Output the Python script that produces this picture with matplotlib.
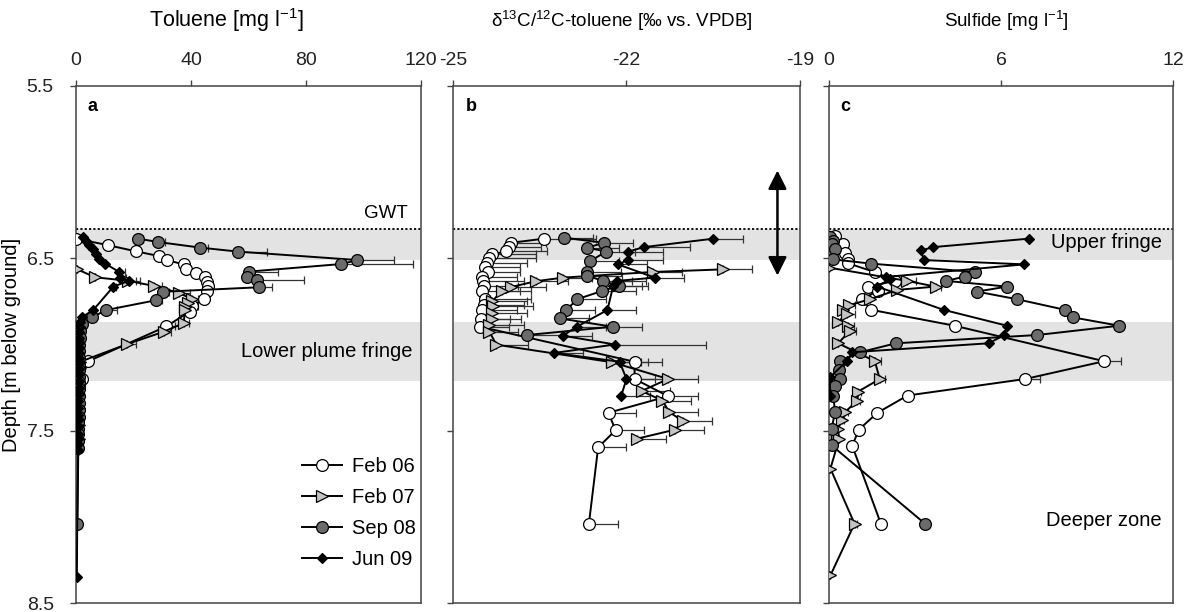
import numpy as np
import matplotlib.pyplot as plt

plt.rcParams['font.family'] = ['Liberation Sans', 'DejaVu Sans']
plt.rcParams['font.size'] = 14
plt.rcParams['mathtext.fontset'] = 'custom'
plt.rcParams['mathtext.rm'] = 'Liberation Sans'
plt.rcParams['mathtext.it'] = 'Liberation Sans'

# ---------------- panel a: toluene [mg/l] ----------------
tol_feb06_d = [6.386, 6.423, 6.46, 6.487, 6.51, 6.535, 6.56, 6.587, 6.61, 6.636, 6.66, 6.69,
               6.737, 6.775, 6.81, 6.895, 7.097, 7.20, 7.24]
tol_feb06_v = [0, 11, 21, 29, 31.6, 37.4, 38.3, 41.9, 44.8, 45.6, 45.9, 45.7,
               44.5, 40.3, 39.5, 31.4, 4.3, 2, 1]
tol_feb06_e = [0, 0, 0, 0, 0, 0, 0, 0, 0, 0, 0, 0, 0, 2, 2, 3, 0, 0, 0]

tol_feb07_d = [6.564, 6.61, 6.63, 6.66, 6.70, 6.737, 6.76, 6.78, 6.80, 6.876, 6.926, 6.997,
               7.10, 7.22, 7.30, 7.37, 7.47, 7.55]
tol_feb07_v = [0.5, 6.6, 18, 27, 35.7, 40.3, 39, 38, 38, 37.4, 30.5, 17.9,
               1.5, 1.2, 1.0, 1.2, 1.0, 1.0]
tol_feb07_e = [0, 0, 4.3, 3, 4, 2, 1.5, 3, 2.5, 2, 2.5, 3, 0, 0, 0, 0, 0, 0]

tol_sep08_d = [6.386, 6.405, 6.438, 6.461, 6.51, 6.533, 6.577, 6.608, 6.627, 6.668, 6.694,
               6.743, 6.80, 6.843, 6.88, 6.92, 6.96, 7.0, 7.04, 7.08, 7.12, 7.15, 7.19,
               7.22, 7.26, 7.30, 7.34, 7.38, 7.42, 7.45, 7.49, 7.52, 7.56, 7.60, 8.04]
tol_sep08_v = [21.7, 28.4, 43.3, 56.4, 97.9, 92.3, 60.1, 59.5, 62.8, 63.6, 30.2,
               27.9, 10.5, 5.5, 2.0, 1.5, 1.3, 1.2, 1.2, 1.1, 1.1, 1.0, 1.0,
               1.0, 1.0, 0.9, 0.9, 0.9, 0.9, 0.8, 0.8, 0.8, 0.8, 0.8, 0.5]
tol_sep08_e = [1.5, 2.5, 2.5, 10, 12.8, 25, 10, 2, 16.5, 4.4, 2,
               2, 3.8, 1] + [0] * 21

tol_jun09_d = [6.375, 6.40, 6.425, 6.448, 6.475, 6.506, 6.53, 6.579, 6.617, 6.631, 6.664,
               6.80, 6.84, 6.87, 6.90, 6.93, 6.96, 6.99, 7.02, 7.05, 7.08, 7.11, 7.14,
               7.17, 7.21, 7.25, 7.29, 7.33, 7.37, 7.41, 7.44, 7.48, 7.52, 7.55, 7.58,
               7.61, 8.35]
tol_jun09_v = [2.3, 3.5, 4.6, 6, 7, 8.1, 10.1, 15, 15.3, 18.3, 13,
               6, 2.2, 1.5, 1.3, 1.2, 1.2, 1.1, 1.1, 1.0, 1.0, 1.0, 1.0,
               0.9, 0.9, 0.9, 0.9, 0.8, 0.8, 0.8, 0.8, 0.7, 0.7, 0.7, 0.6,
               0.6, 0.3]
tol_jun09_e = [0, 0, 0, 0, 0, 0, 0, 2, 2, 2.5, 1] + [0] * 26

# ---------------- panel b: d13C toluene ----------------
iso_feb06_d = [6.386, 6.41, 6.432, 6.46, 6.477, 6.496, 6.525, 6.55, 6.579, 6.606, 6.631,
               6.66, 6.689, 6.737, 6.77, 6.80, 6.85, 6.897, 7.10, 7.20, 7.30, 7.396,
               7.498, 7.597, 8.04]
iso_feb06_v = [-23.43, -24.0, -24.03, -24.08, -24.32, -24.37, -24.42, -24.45, -24.39,
               -24.5, -24.48, -24.47, -24.49, -24.45, -24.47, -24.5, -24.52, -24.53,
               -21.86, -21.86, -21.28, -22.31, -22.19, -22.49, -22.65]
iso_feb06_e = [0.9, 0.6, 0.55, 0.7, 0.75, 0.8, 0.7, 0.6, 0.55, 0.6, 0.7,
               0.6, 0.65, 0.8, 0.7, 0.6, 0.5, 0.5, 0.48, 0.5, 0.51, 0.48, 0.49, 0.49, 0.5]

iso_feb07_d = [6.564, 6.579, 6.612, 6.633, 6.666, 6.689, 6.747, 6.779, 6.818, 6.85, 6.887,
               6.926, 7.001, 7.103, 7.2, 7.27, 7.325, 7.392, 7.446, 7.494, 7.546]
iso_feb07_v = [-20.33, -21.54, -23.1, -23.57, -23.99, -24.15, -24.32, -24.31, -24.32,
               -24.32, -24.37, -24.37, -24.25, -22.25, -21.28, -21.74, -21.38, -21.26,
               -21.02, -21.16, -21.81]
iso_feb07_e = [0.5, 0.5, 0.5, 0.55, 0.6, 0.5, 0.6, 0.7, 0.6, 0.5, 0.6,
               0.5, 0.55, 0.5, 0.51, 0.5, 0.5, 0.5, 0.5, 0.5, 0.5]

iso_sep08_d = [6.38, 6.41, 6.438, 6.461, 6.516, 6.578, 6.60, 6.632, 6.66, 6.69, 6.737,
               6.799, 6.849, 6.897, 6.945]
iso_sep08_v = [-23.08, -22.39, -22.68, -22.35, -22.63, -22.69, -22.68, -22.4, -22.13,
               -22.43, -22.85, -23.04, -23.15, -22.24, -23.72]
iso_sep08_e = [0.5, 0.5, 0.55, 0.5, 0.5, 0.6, 0.6, 0.5, 0.5, 0.6, 0.5, 0.5, 0.5, 0.5, 0.6]

iso_jun09_d = [6.386, 6.435, 6.461, 6.51, 6.535, 6.612, 6.631, 6.66, 6.80, 6.897, 6.949,
               7.0, 7.049, 7.10, 7.2, 7.296]
iso_jun09_v = [-20.5, -21.7, -21.97, -21.97, -22.15, -21.51, -22.17, -22.23, -22.33,
               -22.86, -23.1, -22.2, -23.25, -22.12, -22.0, -22.09]
iso_jun09_e = [0.51, 0.8, 0.6, 0.6, 0.5, 0.5, 0.5, 0.5, 0.5, 0.5, 0.5, 1.57, 0.5,
               0.5, 0.5, 0.5]

# ---------------- panel c: sulfide [mg/l] ----------------
sul_feb06_d = [6.371, 6.419, 6.467, 6.502, 6.529, 6.58, 6.631, 6.664, 6.689, 6.737, 6.799,
               6.891, 7.097, 7.2, 7.296, 7.396, 7.494, 7.588, 8.04]
sul_feb06_v = [0.21, 0.5, 0.56, 0.67, 0.67, 1.6, 2.3, 1.37, 1.71, 1.14, 1.48,
               4.38, 9.6, 6.85, 2.74, 1.69, 1.04, 0.81, 1.81]
sul_feb06_e = [0, 0, 0, 0, 0, 0, 0, 0, 0, 0, 0, 0.1, 0.6, 0.5, 0.1, 0, 0, 0, 0]

sul_feb07_d = [6.554, 6.631, 6.664, 6.683, 6.737, 6.772, 6.799, 6.824, 6.868, 6.895, 6.92,
               6.993, 7.097, 7.2, 7.273, 7.325, 7.392, 7.44, 7.49, 7.55, 7.72, 8.04, 8.34]
sul_feb07_v = [0, 2.72, 3.72, 2.38, 1.43, 0.71, 0.48, 0.62, 0.32, 0.67, 0.73,
               0.32, 1.6, 1.77, 1.02, 0.99, 0.56, 0.44, 0.32, 0.35, 0.05, 0.89, 0.05]
sul_feb07_e = [0, 0.3, 0.2, 0, 0, 0.2, 0.2, 0.3, 0, 0.2, 0.2,
               0, 0.2, 0.2, 0.1, 0.1, 0.1, 0.1, 0, 0, 0, 0.1, 0]

sul_sep08_d = [6.375, 6.40, 6.419, 6.448, 6.506, 6.531, 6.579, 6.606, 6.631, 6.664, 6.693,
               6.737, 6.799, 6.843, 6.891, 6.945, 6.993, 7.045, 7.097, 7.146, 7.2, 7.24,
               7.296, 7.392, 7.49, 7.585, 8.04]
sul_sep08_v = [0.03, 0.15, 0.09, 0.21, 0.15, 1.48, 5.08, 4.73, 4.09, 6.21, 5.16,
               6.55, 8.24, 8.52, 10.12, 7.26, 2.33, 1.08, 0.38, 0.36, 0.38, 0.21,
               0.15, 0.21, 0.09, 0.09, 3.35]

sul_jun09_d = [6.386, 6.435, 6.454, 6.51, 6.535, 6.608, 6.621, 6.664, 6.799, 6.891, 6.945,
               6.993, 7.045, 7.097, 7.19, 7.296]
sul_jun09_v = [6.96, 3.63, 3.22, 3.30, 6.81, 2.0, 2.12, 1.68, 4.0, 6.21, 6.12,
               5.57, 0.81, 0.62, 0.03, 0.03]

GWT = 6.33
UPPER_BAND = (6.33, 6.51)
LOWER_BAND = (6.87, 7.21)

STYLE = {
    "Feb 06": dict(marker="o", mfc="white", ms=8.5),
    "Feb 07": dict(marker=">", mfc="#c4c4c4", ms=9),
    "Sep 08": dict(marker="o", mfc="#6b6b6b", ms=8.5),
    "Jun 09": dict(marker="D", mfc="black", ms=5.5),
}


def series(ax, d, v, name, err=None, label=None):
    st = STYLE[name]
    if err is not None:
        err = np.array(err)
        ax.errorbar(v, d, xerr=[np.zeros_like(err), err], fmt="none", ecolor="#333333",
                    elinewidth=0.9, capsize=3, capthick=0.9, zorder=3)
    ax.plot(v, d, color="black", lw=1.4, marker=st["marker"], ms=st["ms"],
            mfc=st["mfc"], mec="black", mew=0.9, zorder=4, label=label)


def frame(ax, xlim, xticks, xlabel, label_size):
    ax.set_ylim(8.5, 5.5)
    ax.set_xlim(*xlim)
    ax.axhspan(*UPPER_BAND, color="#e3e3e3", lw=0, zorder=0)
    ax.axhspan(*LOWER_BAND, color="#e3e3e3", lw=0, zorder=0)
    ax.axhline(GWT, color="black", ls=(0, (1.2, 1.2)), lw=1.3, zorder=1)
    ax.xaxis.tick_top()
    ax.xaxis.set_label_position("top")
    ax.set_xticks(xticks)
    ax.set_xticklabels([str(t) for t in xticks])
    ax.set_xlabel(xlabel, fontsize=label_size)
    ax.set_yticks([5.5, 6.5, 7.5, 8.5])
    ax.tick_params(direction="out", length=4, width=1, color="#444444", labelsize=14)
    ax.tick_params(axis="x", pad=8)
    ax.tick_params(axis="y", pad=12)
    for s in ax.spines.values():
        s.set_color("#444444")
        s.set_linewidth(1.1)


fig = plt.figure(figsize=(11.89, 6.12), dpi=100)
bottom, height = 9 / 612, 517 / 612
ax_a = fig.add_axes([76 / 1189, bottom, 345 / 1189, height])
ax_b = fig.add_axes([453 / 1189, bottom, 347 / 1189, height])
ax_c = fig.add_axes([829 / 1189, bottom, 344 / 1189, height])

# panel a
frame(ax_a, (0, 120), [0, 40, 80, 120], r"Toluene [mg l$^{-1}$]", 15.5)
ax_a.xaxis.set_label_coords(0.435, 1.115)
ax_a.set_yticklabels(["5.5", "6.5", "7.5", "8.5"])
ax_a.set_ylabel("Depth [m below ground]", fontsize=14.5, labelpad=4)
series(ax_a, tol_feb06_d, tol_feb06_v, "Feb 06", tol_feb06_e, label="Feb 06")
series(ax_a, tol_feb07_d, tol_feb07_v, "Feb 07", tol_feb07_e, label="Feb 07")
series(ax_a, tol_sep08_d, tol_sep08_v, "Sep 08", tol_sep08_e, label="Sep 08")
series(ax_a, tol_jun09_d, tol_jun09_v, "Jun 09", tol_jun09_e, label="Jun 09")
ax_a.text(4, 5.62, "a", fontweight="bold", fontsize=13, va="center")
ax_a.text(115.5, 6.24, "GWT", ha="right", va="center", fontsize=13.5)
ax_a.text(117, 7.04, "Lower plume fringe", ha="right", va="center", fontsize=14.5)
ax_a.legend(loc="upper left", bbox_to_anchor=(0.655, 0.282), frameon=False, fontsize=14.5,
            handlelength=2.0, handletextpad=0.5, labelspacing=0.6,
            borderpad=0, borderaxespad=0)

# panel b
frame(ax_b, (-25, -19), [-25, -22, -19],
      "δ$^{13}$C/$^{12}$C-toluene [‰ vs. VPDB]", 13.5)
ax_b.xaxis.set_label_coords(0.485, 1.115)
ax_b.set_yticklabels([])
series(ax_b, iso_feb06_d, iso_feb06_v, "Feb 06", iso_feb06_e)
series(ax_b, iso_feb07_d, iso_feb07_v, "Feb 07", iso_feb07_e)
series(ax_b, iso_sep08_d, iso_sep08_v, "Sep 08", iso_sep08_e)
series(ax_b, iso_jun09_d, iso_jun09_v, "Jun 09", iso_jun09_e)
ax_b.text(-24.78, 5.62, "b", fontweight="bold", fontsize=13, va="center")
ax_b.annotate("", xy=(-19.39, 5.99), xytext=(-19.39, 6.60),
              arrowprops=dict(arrowstyle="<|-|>", color="black", lw=1.8,
                              mutation_scale=28, shrinkA=0, shrinkB=0))

# panel c
frame(ax_c, (0, 12), [0, 6, 12], r"Sulfide [mg l$^{-1}$]", 13.5)
ax_c.xaxis.set_label_coords(0.515, 1.115)
ax_c.set_yticklabels([])
series(ax_c, sul_feb06_d, sul_feb06_v, "Feb 06", sul_feb06_e)
series(ax_c, sul_feb07_d, sul_feb07_v, "Feb 07", sul_feb07_e)
series(ax_c, sul_sep08_d, sul_sep08_v, "Sep 08")
series(ax_c, sul_jun09_d, sul_jun09_v, "Jun 09")
ax_c.text(0.4, 5.62, "c", fontweight="bold", fontsize=13, va="center")
ax_c.text(11.6, 6.41, "Upper fringe", ha="right", va="center", fontsize=14.5)
ax_c.text(11.6, 8.02, "Deeper zone", ha="right", va="center", fontsize=14.5)

for ax in (ax_a, ax_b, ax_c):
    for lab in ax.get_xticklabels() + ax.get_yticklabels():
        lab.set_color("#222222")

fig.savefig("out.png", dpi=100)
